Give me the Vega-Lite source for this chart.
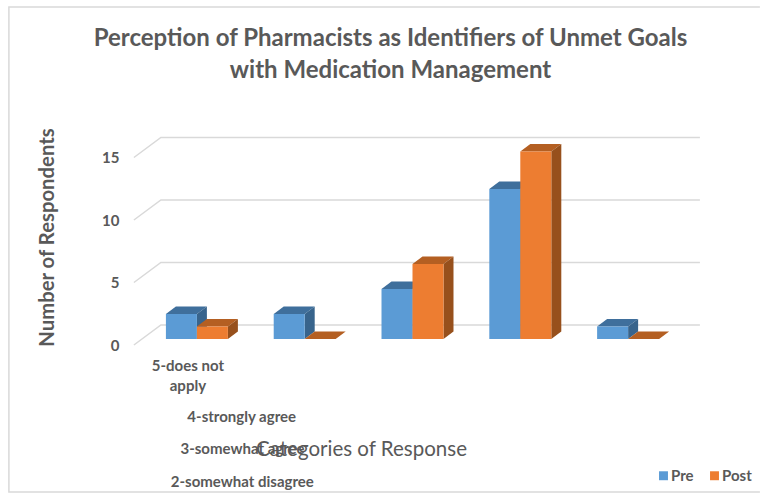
{"$schema":"https://vega.github.io/schema/vega-lite/v6.json","width":539,"height":200,"autosize":"none","padding":{"left":143,"top":139,"right":78,"bottom":154},"background":"white",
"title":{"text":["Perception of Pharmacists as Identifiers of Unmet Goals","with Medication Management"],"font":"Lato","fontSize":24,"fontWeight":"bold","color":"#595959","lineHeight":32,"anchor":"middle","dx":-22,"offset":-79},
"config":{"view":{"stroke":null}},
"datasets":{"responses":[
{"category":"5-does not apply","series":"Pre","value":2},{"category":"5-does not apply","series":"Post","value":1},
{"category":"4-strongly agree","series":"Pre","value":2},{"category":"4-strongly agree","series":"Post","value":0},
{"category":"3-somewhat agree","series":"Pre","value":4},{"category":"3-somewhat agree","series":"Post","value":6},
{"category":"2-somewhat disagree","series":"Pre","value":12},{"category":"2-somewhat disagree","series":"Post","value":15},
{"category":"1-strongly disagree","series":"Pre","value":1},{"category":"1-strongly disagree","series":"Post","value":0}]},
"data":{"name":"responses"},
"encoding":{
"x":{"field":"category","type":"nominal","sort":null,"scale":{"domain":["5-does not apply","4-strongly agree","3-somewhat agree","2-somewhat disagree","1-strongly disagree"],"paddingInner":0.425,"paddingOuter":0.2125},"axis":{"labels":false,"ticks":false,"domain":false,"title":"Categories of Response","titleFont":"Lato","titleFontSize":20.5,"titleFontWeight":"normal","titleColor":"#595959","titleX":218,"titleY":110,"titleBaseline":"middle","titleAlign":"center","zindex":1}},
"y":{"field":"value","type":"quantitative","scale":{"domain":[0,16],"nice":false},"axis":{"values":[0,5,10,15],"grid":false,"ticks":false,"domain":false,"labelFont":"Lato","labelFontSize":15,"labelFontWeight":"bold","labelColor":"#595959","labelPadding":24,"labelOffset":6,"title":"Number of Respondents","titleFont":"Lato","titleFontSize":20.3,"titleFontWeight":"bold","titleColor":"#595959","titleX":-96,"titleY":98,"titleAlign":"center","titleBaseline":"middle"}},
"xOffset":{"field":"series","type":"nominal","sort":null,"scale":{"domain":["Pre","Post"],"paddingInner":0,"paddingOuter":0}}
},
"layer":[
{"data":{"values":[{"frame":0}]},"mark":{"type":"point","filled":false,"size":4,"stroke":"#d9d9d9","strokeWidth":1.5,"opacity":1,"shape":"M563 -332 L-188 -332 L-188 153 L563 153"},"encoding":{"x":{"datum":"5-does not apply"},"y":{"field":"frame","type":"quantitative"},"xOffset":null}},
{"data":{"values":[{"tick":0},{"tick":5},{"tick":10},{"tick":15}]},"mark":{"type":"point","filled":false,"size":4,"stroke":"#d9d9d9","strokeWidth":1.5,"opacity":1,"shape":"M-63 6 L-36 -14 L503 -14"},"encoding":{"x":{"datum":"5-does not apply"},"y":{"field":"tick","type":"quantitative"},"xOffset":null}},
{"transform":[{"filter":"datum.series==='Pre'"}],"mark":{"type":"point","filled":true,"size":4,"fill":"#3f6f9c","opacity":1,"shape":"M-15.5 0 L15.5 0 L25.5 -7.5 L-5.5 -7.5 Z"}},
{"transform":[{"filter":"datum.series==='Pre'"}],"mark":{"type":"point","filled":true,"size":4,"fill":"#38648c","opacity":1},"encoding":{"shape":{"field":"value","type":"nominal","legend":null,"scale":{"domain":[0,1,2,4,6,12,15],"range":["M15.5 0 L15.5 0 Z","M15.5 0 L25.5 -7.5 L25.5 5 L15.5 12.5 Z","M15.5 0 L25.5 -7.5 L25.5 17.5 L15.5 25 Z","M15.5 0 L25.5 -7.5 L25.5 42.5 L15.5 50 Z","M15.5 0 L25.5 -7.5 L25.5 67.5 L15.5 75 Z","M15.5 0 L25.5 -7.5 L25.5 142.5 L15.5 150 Z","M15.5 0 L25.5 -7.5 L25.5 180 L15.5 187.5 Z"]}}}},
{"transform":[{"filter":"datum.series==='Pre'"}],"mark":{"type":"bar"},"encoding":{"color":{"field":"series","type":"nominal","sort":null,"scale":{"domain":["Pre","Post"],"range":["#5b9bd5","#ed7d31"]},"legend":{"orient":"none","legendX":513,"legendY":329,"direction":"horizontal","title":null,"symbolType":"square","symbolSize":80,"labelFont":"Lato","labelFontSize":15,"labelFontWeight":"bold","labelColor":"#595959","columnPadding":13,"labelOffset":0}}}},
{"transform":[{"filter":"datum.series==='Post'"}],"mark":{"type":"point","filled":true,"size":4,"fill":"#b45f22","opacity":1,"shape":"M-15.5 0 L15.5 0 L25.5 -7.5 L-5.5 -7.5 Z"}},
{"transform":[{"filter":"datum.series==='Post'"}],"mark":{"type":"point","filled":true,"size":4,"fill":"#97501c","opacity":1},"encoding":{"shape":{"field":"value","type":"nominal","legend":null}}},
{"transform":[{"filter":"datum.series==='Post'"}],"mark":{"type":"bar"},"encoding":{"color":{"field":"series","type":"nominal","sort":null}}},
{"transform":[{"filter":"datum.series==='Pre' && datum.category==='5-does not apply'"}],"mark":{"type":"text","font":"Lato","fontSize":15,"fontWeight":"bold","fill":"#595959","text":["5-does not","apply"],"lineHeight":20,"dx":-9,"baseline":"middle"},"encoding":{"y":{"datum":0},"xOffset":null,"yOffset":{"value":27}}},
{"transform":[{"filter":"datum.series==='Pre' && datum.category==='4-strongly agree'"}],"mark":{"type":"text","font":"Lato","fontSize":15,"fontWeight":"bold","fill":"#595959","dx":-63,"baseline":"middle"},"encoding":{"y":{"datum":0},"xOffset":null,"text":{"field":"category"},"yOffset":{"value":78}}},
{"transform":[{"filter":"datum.series==='Pre' && datum.category==='3-somewhat agree'"}],"mark":{"type":"text","font":"Lato","fontSize":15,"fontWeight":"bold","fill":"#595959","dx":-170,"baseline":"middle"},"encoding":{"y":{"datum":0},"xOffset":null,"text":{"field":"category"},"yOffset":{"value":110}}},
{"transform":[{"filter":"datum.series==='Pre' && datum.category==='2-somewhat disagree'"}],"mark":{"type":"text","font":"Lato","fontSize":15,"fontWeight":"bold","fill":"#595959","dx":-278,"baseline":"middle"},"encoding":{"y":{"datum":0},"xOffset":null,"text":{"field":"category"},"yOffset":{"value":143}}}
]}
